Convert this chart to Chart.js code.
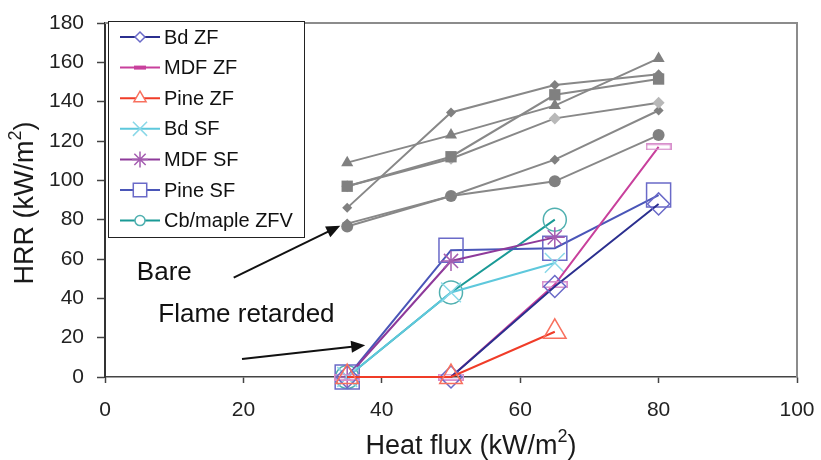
<!DOCTYPE html>
<html>
<head>
<meta charset="utf-8">
<script src="https://cdn.jsdelivr.net/npm/chart.js@4.4.1/dist/chart.umd.min.js"></script>
<style>
  html, body { margin: 0; padding: 0; background: #fff; }
</style>
</head>
<body>
<canvas id="hrr" width="821" height="460"></canvas>
<script>
// x values (heat flux, kW/m2)
const heatFlux = [35, 50, 65, 80];

// flame retarded series (shown in legend)
const seriesNames = ['Bd ZF', 'MDF ZF', 'Pine ZF', 'Bd SF', 'MDF SF', 'Pine SF', 'Cb/maple ZFV'];
const bdZF = [0, 0, 46, 88];
const mdfZF = [0, 0, 47, 117];
const pineZF = [0, 0, 23, null];
const bdSF = [0, 43, 58, null];
const mdfSF = [0, 59, 71, null];
const pineSF = [0, 64.5, 65.5, 92.5];
const cbMapleZFV = [0, 43, 80, null];

// bare series (grey, no legend entry)
const bareTri = [109, 123, 138, 162];
const bareSquare = [97, 112, 143.5, 151.5];
const bareDiamondA = [86, 134.5, 148.5, 154];
const bareDiamondLight = [97, 111, 131.5, 139.5];
const bareDiamondB = [78, 92, 110.5, 135.5];
const bareCircle = [76.5, 92, 99.5, 123];

const xTicksMax = 100, yTicksMax = 180, tickStep = 20;

const FONT = '"Liberation Sans", Arial, sans-serif';

function flatBar(w, h, color, lw) {
  const c = document.createElement('canvas');
  c.width = w; c.height = h;
  const g = c.getContext('2d');
  g.strokeStyle = color; g.lineWidth = lw;
  g.strokeRect(lw / 2, lw / 2, w - lw, h - lw);
  return c;
}

const frValues = [bdZF, mdfZF, pineZF, bdSF, mdfSF, pineSF, cbMapleZFV];
const frStyles = [
  { line: '#2b2f8f', mark: '#6a6ac8', point: 'rectRot', r: 11, lr: 5 },
  { line: '#c8409c', mark: '#d890cc', point: flatBar(26, 7, '#d890cc', 1.6), r: 12, lr: 0, bar: true },
  { line: '#f03c28', mark: '#f8705e', point: 'triangle', r: 13, lr: 7, top: true },
  { line: '#5ec8dc', mark: '#8ad8e8', point: 'crossRot', r: 14, lr: 10 },
  { line: '#8e3a9a', mark: '#a45cb0', point: 'star', r: 10, lr: 8 },
  { line: '#4a56b8', mark: '#6a6ac8', point: 'rect', r: 17, lr: 9.5 },
  { line: '#1a9a96', mark: '#50b0b0', point: 'circle', r: 11.5, lr: 5 }
];

const bareValues = [bareTri, bareSquare, bareDiamondA, bareDiamondLight, bareDiamondB, bareCircle];
const bareStyles = [
  { point: 'triangle', r: 7, fill: '#808080' },
  { point: 'rect', r: 8, fill: '#808080' },
  { point: 'rectRot', r: 5, fill: '#808080' },
  { point: 'rectRot', r: 6, fill: '#b8b8b8' },
  { point: 'rectRot', r: 5, fill: '#808080' },
  { point: 'circle', r: 6, fill: '#808080' }
];

const datasets = [];
frValues.forEach((vals, i) => {
  const s = frStyles[i];
  datasets.push({
    label: seriesNames[i],
    data: heatFlux.map((x, j) => ({ x, y: vals[j] })),
    borderColor: s.line,
    borderWidth: 2,
    pointStyle: s.point,
    pointRadius: s.r,
    pointBorderColor: s.mark,
    pointBackgroundColor: 'rgba(0,0,0,0)',
    pointBorderWidth: 1.5,
    clip: false,
    order: s.top ? -1 : 0,
    inLegend: true
  });
});
bareValues.forEach((vals, i) => {
  const s = bareStyles[i];
  datasets.push({
    label: 'bare ' + (i + 1),
    data: heatFlux.map((x, j) => ({ x, y: vals[j] })),
    borderColor: '#888888',
    borderWidth: 2,
    pointStyle: s.point,
    pointRadius: s.r,
    pointBorderColor: s.fill,
    pointBackgroundColor: s.fill,
    pointBorderWidth: 0,
    clip: false
  });
});

function drawArrow(ctx, x1, y1, x2, y2) {
  const a = Math.atan2(y2 - y1, x2 - x1);
  const L = 14, W = 6;
  ctx.beginPath();
  ctx.moveTo(x1, y1);
  ctx.lineTo(x2 - Math.cos(a) * L * 0.8, y2 - Math.sin(a) * L * 0.8);
  ctx.stroke();
  ctx.beginPath();
  ctx.moveTo(x2, y2);
  ctx.lineTo(x2 - Math.cos(a) * L + Math.sin(a) * W, y2 - Math.sin(a) * L - Math.cos(a) * W);
  ctx.lineTo(x2 - Math.cos(a) * L - Math.sin(a) * W, y2 - Math.sin(a) * L + Math.cos(a) * W);
  ctx.closePath();
  ctx.fill();
}

// text with a superscript "2", centred on (0,0) of the current transform
function drawSupTitle(ctx, pre, sup, post, size) {
  const base = size + 'px ' + FONT, small = Math.round(size * 0.68) + 'px ' + FONT;
  ctx.font = base; const w1 = ctx.measureText(pre).width, w3 = ctx.measureText(post).width;
  ctx.font = small; const w2 = ctx.measureText(sup).width;
  let x = -(w1 + w2 + w3) / 2;
  ctx.textAlign = 'left'; ctx.textBaseline = 'alphabetic';
  const by = size * 0.36;
  ctx.font = base; ctx.fillText(pre, x, by); x += w1;
  ctx.font = small; ctx.fillText(sup, x, by - size * 0.42); x += w2;
  ctx.font = base; ctx.fillText(post, x, by);
}

const framePlugin = {
  id: 'frame',
  beforeDatasetsDraw(chart) {
    const { ctx, chartArea: a } = chart;
    ctx.save();
    ctx.strokeStyle = '#8c8c8c';
    ctx.lineWidth = 2;
    ctx.beginPath();
    ctx.moveTo(a.left, a.top);
    ctx.lineTo(a.right, a.top);
    ctx.lineTo(a.right, a.bottom);
    ctx.stroke();
    ctx.restore();
  }
};

const annotationPlugin = {
  id: 'notes',
  afterDraw(chart) {
    const { ctx, scales: { x, y } } = chart;
    ctx.save();
    ctx.fillStyle = '#111';
    ctx.strokeStyle = '#111';
    ctx.lineWidth = 2;
    ctx.font = '26px ' + FONT;
    ctx.textBaseline = 'middle';
    ctx.textAlign = 'left';
    ctx.fillText('Bare', x.getPixelForValue(4.6), y.getPixelForValue(53.2));
    ctx.fillText('Flame retarded', x.getPixelForValue(7.7), y.getPixelForValue(31.4));
    drawArrow(ctx, x.getPixelForValue(18.6), y.getPixelForValue(50.5), x.getPixelForValue(34), y.getPixelForValue(76.9));
    drawArrow(ctx, x.getPixelForValue(19.8), y.getPixelForValue(9.1), x.getPixelForValue(37.6), y.getPixelForValue(16.2));

    // axis titles
    ctx.fillStyle = '#1a1a1a';
    ctx.save();
    ctx.translate(471, 444);
    drawSupTitle(ctx, 'Heat flux (kW/m', '2', ')', 27);
    ctx.restore();
    ctx.save();
    ctx.translate(23, 203);
    ctx.rotate(-Math.PI / 2);
    drawSupTitle(ctx, 'HRR (kW/m', '2', ')', 27);
    ctx.restore();

    // legend
    const lx = 108, ly = 21, lw = 196, lh = 216, row = 30.6;
    ctx.fillStyle = '#fff';
    ctx.fillRect(lx, ly, lw, lh);
    ctx.strokeStyle = '#222';
    ctx.lineWidth = 1;
    ctx.strokeRect(lx + 0.5, ly + 0.5, lw, lh);
    ctx.font = '20px ' + FONT;
    chart.data.datasets.forEach((ds, i) => {
      if (!ds.inLegend) return;
      const s = frStyles[i];
      const cy = ly + 16 + i * row;
      ctx.strokeStyle = s.line;
      ctx.lineWidth = 2;
      ctx.beginPath();
      ctx.moveTo(lx + 12, cy);
      ctx.lineTo(lx + 52, cy);
      ctx.stroke();
      if (s.bar) {
        ctx.fillStyle = s.line;
        ctx.fillRect(lx + 26, cy - 2, 12, 4);
      } else {
        ctx.strokeStyle = s.mark;
        ctx.fillStyle = '#fff';
        ctx.lineWidth = 1.5;
        Chart.helpers.drawPoint(ctx, { pointStyle: s.point, radius: s.lr, rotation: 0, borderWidth: 1.5 }, lx + 32, cy);
      }
      ctx.fillStyle = '#111';
      ctx.textAlign = 'left';
      ctx.textBaseline = 'middle';
      ctx.fillText(ds.label, lx + 56, cy + 1);
    });
    ctx.restore();
  }
};

new Chart(document.getElementById('hrr'), {
  type: 'line',
  data: { datasets },
  options: {
    responsive: false,
    animation: false,
    layout: { padding: { top: 23, right: 24, left: 0, bottom: 0 } },
    plugins: { legend: { display: false }, tooltip: { enabled: false } },
    scales: {
      x: {
        type: 'linear', min: 0, max: xTicksMax,
        ticks: { stepSize: tickStep, color: '#222', font: { family: FONT, size: 21 }, padding: 15, maxRotation: 0 },
        grid: { drawOnChartArea: false, color: '#444', tickLength: 6, tickWidth: 1.5 },
        border: { color: '#444', width: 1.5 },
        afterFit(s) { s.height = 83; s.paddingLeft = 0; s.paddingRight = 0; }
      },
      y: {
        type: 'linear', min: 0, max: yTicksMax,
        ticks: { stepSize: tickStep, color: '#222', font: { family: FONT, size: 21 }, padding: 13 },
        grid: { drawOnChartArea: false, color: '#444', tickLength: 8, tickWidth: 1.5 },
        border: { color: '#333', width: 2 },
        afterFit(s) { s.width = 105; s.paddingTop = 0; s.paddingBottom = 0; }
      }
    }
  },
  plugins: [framePlugin, annotationPlugin]
});
</script>
</body>
</html>
